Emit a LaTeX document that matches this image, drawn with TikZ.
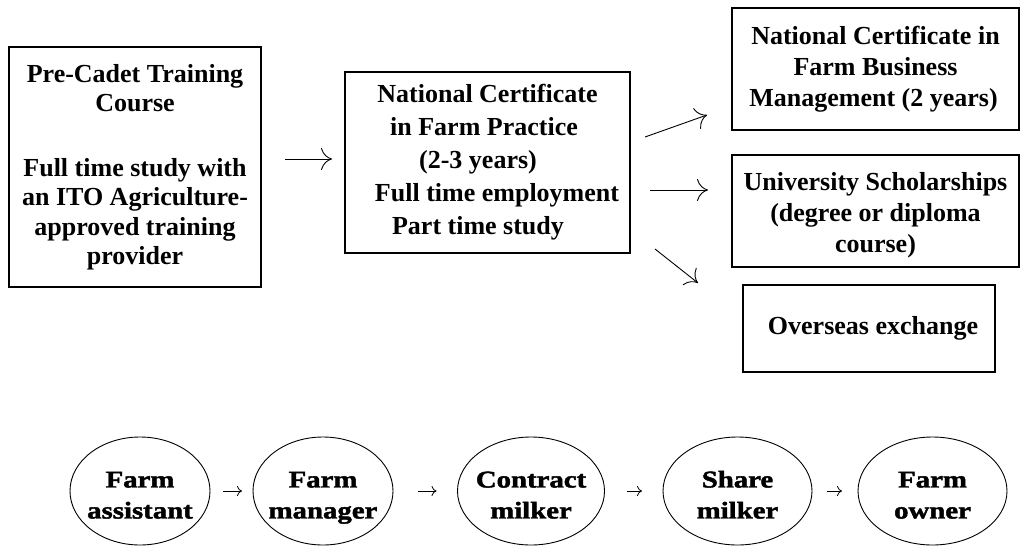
\documentclass[tikz,border=0pt]{standalone}
\usepackage{fontspec}
\setmainfont{Liberation Serif}
\newfontfamily\boxfont{Liberation Serif}
\newfontfamily\ellfont[FakeStretch=1.2,BoldFeatures={FakeBold=1.8}]{Liberation Serif}
\usetikzlibrary{arrows.meta,shapes.geometric}
\newcommand{\eltxt}[2]{\raisebox{-12pt}[0pt][0pt]{\begin{tabular}{@{}c@{}}\makebox[0pt]{#1}\\\makebox[0pt]{#2}\end{tabular}}}
\tikzset{
  bx/.style={draw, line width=1.3pt, rectangle, inner sep=0pt, outer sep=0pt, align=center,
    font=\boxfont\bfseries\fontsize{26}{31}\selectfont},
  el/.style={draw, line width=0.9pt, ellipse, inner sep=0pt, outer sep=0pt, minimum height=108pt,
    font=\ellfont\bfseries\fontsize{24}{31}\selectfont},
  bigarr/.style={line width=0.9pt, -{Computer Modern Rightarrow[length=11pt,width=22pt,line width=0.9pt]}},
  smallarr/.style={line width=0.8pt, -{Computer Modern Rightarrow[length=5pt,width=10pt,line width=0.8pt]}}
}
\begin{document}
\begin{tikzpicture}[x=1pt,y=-1pt]
\useasboundingbox (0,0) rectangle (1022,546);
% boxes
\node[bx, minimum width=252pt, minimum height=240pt, font=\boxfont\bfseries\fontsize{26}{29.5}\selectfont] (b1) at (135,167)
  {Pre-Cadet Training\\Course\\[35pt]Full time study with\\an ITO Agriculture-\\approved training\\provider};
\node[bx, minimum width=285pt, minimum height=181pt, font=\boxfont\bfseries\fontsize{26}{33}\selectfont] (b2) at (487.5,162.5)
  {National Certificate\\\mbox{in Farm Practice\hspace{7pt}}\\\mbox{(2-3 years)\hspace{19pt}}\\\mbox{\hspace{19pt}Full time employment}\\\mbox{Part time study\hspace{19pt}}};
\node[bx, minimum width=287pt, minimum height=122pt] (b3) at (875.5,69)
  {National Certificate in\\Farm Business\\\mbox{Management (2 years)\hspace{4pt}}};
\node[bx, minimum width=287pt, minimum height=112pt] (b4) at (875.5,211)
  {\raisebox{-10.5pt}[0pt][0pt]{\begin{tabular}{@{}c@{}}University Scholarships\\(degree or diploma\\course)\end{tabular}}};
\node[bx, minimum width=252pt, minimum height=87pt] (b5) at (869,328.5)
  {\mbox{\hspace{8pt}Overseas exchange}};
% arrows (free-standing)
\coordinate (a1s) at (285,159); \coordinate (a1e) at (332,159);
\coordinate (a2s) at (645,137); \coordinate (a2e) at (707,115);
\coordinate (a3s) at (650,190); \coordinate (a3e) at (708,190);
\coordinate (a4s) at (655,249); \coordinate (a4e) at (698,283);
\draw[bigarr] (a1s) -- (a1e);
\draw[bigarr] (a2s) -- (a2e);
\draw[bigarr] (a3s) -- (a3e);
\draw[bigarr] (a4s) -- (a4e);
% career ellipses
\node[el, minimum width=140pt] (e1) at (140,491) {\eltxt{Farm}{assistant}};
\node[el, minimum width=140pt] (e2) at (323,491) {\eltxt{Farm}{manager}};
\node[el, minimum width=147pt] (e3) at (531,491) {\eltxt{Contract}{milker}};
\node[el, minimum width=149pt] (e4) at (737.5,491) {\eltxt{Share}{milker}};
\node[el, minimum width=149pt] (e5) at (932.5,491) {\eltxt{Farm}{owner}};
\draw[smallarr, shorten <=13pt, shorten >=11pt] (e1) -- (e2);
\draw[smallarr, shorten <=25pt, shorten >=21pt] (e2) -- (e3);
\draw[smallarr, shorten <=22pt, shorten >=21pt] (e3) -- (e4);
\draw[smallarr, shorten <=15pt, shorten >=16pt] (e4) -- (e5);
\end{tikzpicture}
\end{document}
